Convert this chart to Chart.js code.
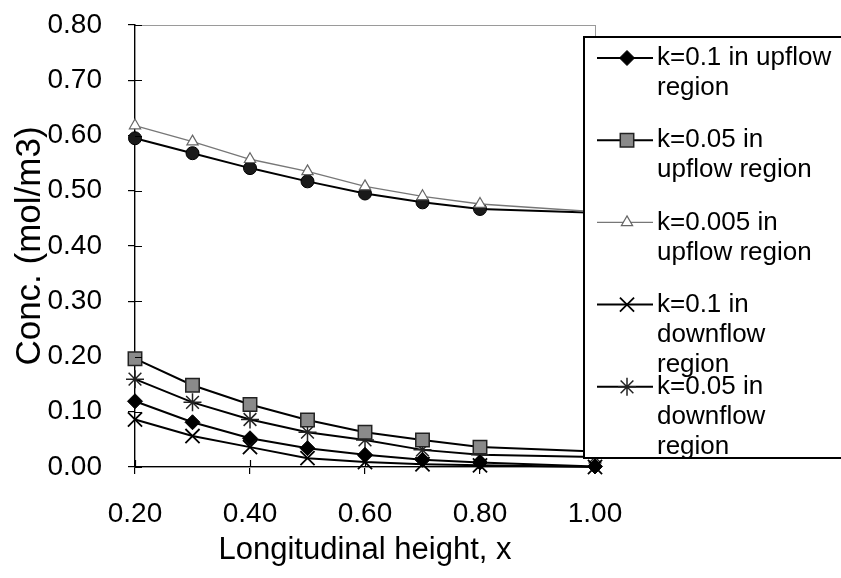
<!DOCTYPE html>
<html>
<head>
<meta charset="utf-8">
<script src="https://cdn.jsdelivr.net/npm/chart.js@4.4.1/dist/chart.umd.min.js"></script>
<style>
  html, body { margin: 0; padding: 0; background: #fff; }
  #wrap { width: 841px; height: 578px; position: relative; overflow: hidden; }
</style>
</head>
<body>
<div id="wrap"><canvas id="c" width="841" height="578"></canvas></div>
<script>
// Longitudinal position along the column
const heights = [0.2, 0.3, 0.4, 0.5, 0.6, 0.7, 0.8, 1.0];

// Concentration (mol/m3) for each rate constant and region
const upK010   = [0.119, 0.081, 0.052, 0.034, 0.022, 0.013, 0.008, 0.001];
const upK005   = [0.196, 0.148, 0.113, 0.085, 0.063, 0.049, 0.036, 0.028];
const upK0005  = [0.618, 0.589, 0.557, 0.535, 0.508, 0.490, 0.476, 0.462];
const downK010 = [0.086, 0.056, 0.036, 0.016, 0.009, 0.005, 0.003, 0.000];
const downK005 = [0.159, 0.117, 0.086, 0.063, 0.049, 0.031, 0.022, 0.018];
const downK0005 = [0.595, 0.568, 0.541, 0.517, 0.495, 0.479, 0.467, 0.460];

// Axis ticks
const xTickValues = [0.2, 0.4, 0.6, 0.8, 1.0];
const yTickValues = [0.0, 0.1, 0.2, 0.3, 0.4, 0.5, 0.6, 0.7, 0.8];

// Legend text, one array of wrapped lines per series
const legendLines = [
  ['k=0.1 in upflow', 'region'],
  ['k=0.05 in', 'upflow region'],
  ['k=0.005 in', 'upflow region'],
  ['k=0.1 in', 'downflow', 'region'],
  ['k=0.05 in', 'downflow', 'region']
];
const seriesNames = [
  'k=0.1 in upflow region',
  'k=0.05 in upflow region',
  'k=0.005 in upflow region',
  'k=0.1 in downflow region',
  'k=0.05 in downflow region',
  'k=0.005 in downflow region'
];

const FONT = '"Liberation Sans", Arial, sans-serif';

function pts(vals) {
  return heights.map((x, i) => ({ x: x, y: vals[i] }));
}

function series(name, vals, style) {
  return Object.assign({
    label: name,
    data: pts(vals),
    borderColor: '#000',
    borderWidth: 2,
    fill: false,
    tension: 0,
    clip: false,
    pointHoverRadius: style.pointRadius
  }, style);
}

const datasets = [
  series(seriesNames[0], upK010, {
    pointStyle: 'rectRot', pointRadius: 7.5,
    pointBackgroundColor: '#000', pointBorderColor: '#000', pointBorderWidth: 1
  }),
  series(seriesNames[1], upK005, {
    pointStyle: 'rect', pointRadius: 9.5,
    pointBackgroundColor: '#8a8a8a', pointBorderColor: '#222', pointBorderWidth: 1.5
  }),
  series(seriesNames[2], upK0005, {
    borderColor: '#777', borderWidth: 1.3,
    pointStyle: 'triangle', pointRadius: 6.5,
    pointBackgroundColor: '#fff', pointBorderColor: '#666', pointBorderWidth: 1.2
  }),
  series(seriesNames[3], downK010, {
    pointStyle: 'crossRot', pointRadius: 10,
    pointBackgroundColor: '#000', pointBorderColor: '#000', pointBorderWidth: 1.8
  }),
  series(seriesNames[4], downK005, {
    pointStyle: 'star', pointRadius: 9,
    pointBackgroundColor: '#222', pointBorderColor: '#222', pointBorderWidth: 1.5
  }),
  series(seriesNames[5], downK0005, {
    pointStyle: 'circle', pointRadius: 6.5,
    pointBackgroundColor: '#1a1a1a', pointBorderColor: '#000', pointBorderWidth: 1
  })
];

// Thin frame around the plot area
const plotFrame = {
  id: 'plotFrame',
  beforeDatasetsDraw(chart) {
    const { ctx, chartArea: a } = chart;
    ctx.save();
    ctx.strokeStyle = '#9a9a9a';
    ctx.lineWidth = 1;
    ctx.strokeRect(a.left + 0.5, a.top + 0.5, a.right - a.left, a.bottom - a.top);
    ctx.restore();
  }
};

// Tick marks that cross the axis (inner half)
const crossTicks = {
  id: 'crossTicks',
  afterDraw(chart) {
    const { ctx, chartArea: a, scales } = chart;
    ctx.save();
    ctx.strokeStyle = '#000';
    ctx.lineWidth = 1.2;
    ctx.beginPath();
    yTickValues.forEach(v => {
      const y = Math.round(scales.y.getPixelForValue(v)) + 0.5;
      ctx.moveTo(a.left, y); ctx.lineTo(a.left + 7, y);
    });
    xTickValues.forEach(v => {
      const x = Math.round(scales.x.getPixelForValue(v)) + 0.5;
      ctx.moveTo(x, a.bottom); ctx.lineTo(x, a.bottom - 7);
    });
    ctx.stroke();
    ctx.restore();
  }
};

// Boxed legend laid over the right side of the plot
const boxLegend = {
  id: 'boxLegend',
  afterDraw(chart) {
    const ctx = chart.ctx;
    const box = { x: 584, y: 37, w: 500, h: 421 };
    const firstY = 58, entryStep = 82.2, lineStep = 30;
    ctx.save();
    ctx.fillStyle = '#fff';
    ctx.fillRect(box.x, box.y, box.w, box.h);
    ctx.strokeStyle = '#000';
    ctx.lineWidth = 2;
    ctx.strokeRect(box.x, box.y, box.w, box.h);

    ctx.font = '26px ' + FONT;
    ctx.textBaseline = 'middle';
    ctx.textAlign = 'left';
    legendLines.forEach((lines, i) => {
      const ds = chart.data.datasets[i];
      const y = firstY + i * entryStep;
      ctx.strokeStyle = ds.borderColor;
      ctx.lineWidth = ds.borderWidth;
      ctx.beginPath();
      ctx.moveTo(597, y); ctx.lineTo(653, y);
      ctx.stroke();
      ctx.fillStyle = ds.pointBackgroundColor;
      ctx.strokeStyle = ds.pointBorderColor;
      ctx.lineWidth = ds.pointBorderWidth;
      Chart.helpers.drawPoint(ctx, {
        pointStyle: ds.pointStyle,
        radius: ds.pointRadius,
        rotation: 0,
        borderWidth: ds.pointBorderWidth
      }, 627, y);
      ctx.fillStyle = '#000';
      lines.forEach((t, j) => ctx.fillText(t, 657, y + j * lineStep));
    });
    ctx.restore();
  }
};

new Chart(document.getElementById('c'), {
  type: 'line',
  data: { datasets: datasets },
  plugins: [plotFrame, crossTicks, boxLegend],
  options: {
    responsive: false,
    animation: false,
    devicePixelRatio: 1,
    layout: { padding: { top: 25, right: 246, left: 0, bottom: 0 } },
    plugins: {
      legend: { display: false },
      tooltip: { enabled: false }
    },
    scales: {
      x: {
        type: 'linear',
        min: 0.2,
        max: 1.0,
        afterBuildTicks: s => { s.ticks = xTickValues.map(v => ({ value: v })); },
        afterFit: s => { s.height = 111; s.paddingLeft = 0; s.paddingRight = 0; },
        ticks: {
          color: '#000',
          font: { family: FONT, size: 28 },
          padding: 23,
          maxRotation: 0,
          autoSkip: false,
          callback: v => Number(v).toFixed(2)
        },
        grid: { display: true, drawOnChartArea: false, color: '#000', tickLength: 7, lineWidth: 1.2 },
        border: { display: true, color: '#000', width: 1.5 },
        title: {
          display: true,
          text: 'Longitudinal height, x',
          color: '#000',
          font: { family: FONT, size: 31 },
          padding: 9
        }
      },
      y: {
        type: 'linear',
        min: 0,
        max: 0.8,
        afterBuildTicks: s => { s.ticks = yTickValues.map(v => ({ value: v })); },
        afterFit: s => { s.width = 135; s.paddingTop = 0; s.paddingBottom = 0; },
        ticks: {
          color: '#000',
          font: { family: FONT, size: 28 },
          padding: 26,
          autoSkip: false,
          callback: v => Number(v).toFixed(2)
        },
        grid: { display: true, drawOnChartArea: false, color: '#000', tickLength: 7, lineWidth: 1.2 },
        border: { display: true, color: '#000', width: 1.5 },
        title: {
          display: true,
          text: 'Conc. (mol/m3)',
          color: '#000',
          font: { family: FONT, size: 35 },
          padding: 9
        }
      }
    }
  }
});
</script>
</body>
</html>
